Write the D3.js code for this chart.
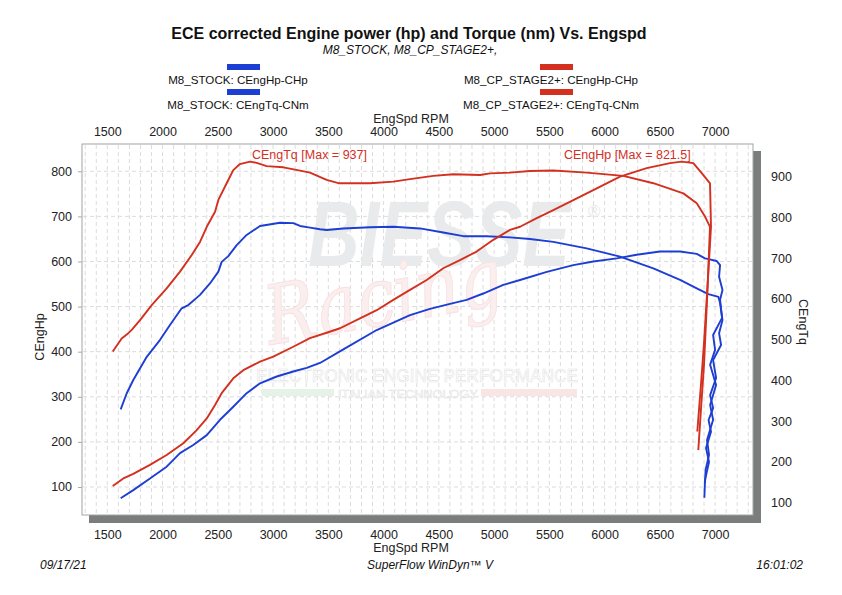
<!DOCTYPE html>
<html>
<head>
<meta charset="utf-8">
<script src="https://cdn.jsdelivr.net/npm/d3@7"></script>
<style>
  body { margin: 0; background: #fff; }
  svg { display: block; font-family: "Liberation Sans", Arial, sans-serif; }
</style>
</head>
<body>
<svg id="chart" width="842" height="595"></svg>
<script>
// tick labels
const rpmTicks = [1500, 2000, 2500, 3000, 3500, 4000, 4500, 5000, 5500, 6000, 6500, 7000];
const hpTicks = [100, 200, 300, 400, 500, 600, 700, 800];
const tqTicks = [100, 200, 300, 400, 500, 600, 700, 800, 900];

// M8_STOCK
const stockHpRpm = [1621, 1735, 1886, 2037, 2158, 2278, 2400, 2520, 2640, 2761, 2882, 3033, 3183, 3304, 3425, 3636, 3938, 4239, 4420, 4601, 4752, 4902, 5083, 5235, 5477, 5717, 5898, 6110, 6291, 6501, 6683, 6834, 6909, 7015, 7045, 7036, 7067, 7045, 7063, 6982, 7000, 6955, 7009, 6955, 6982, 6927, 6945, 6914, 6909];
const stockHp = [75, 93, 119, 145, 175, 193, 215, 249, 278, 308, 330, 345, 356, 364, 375, 405, 448, 481, 495, 506, 515, 529, 548, 559, 577, 592, 600, 607, 615, 622, 622, 617, 607, 601, 592, 566, 537, 515, 475, 437, 404, 371, 326, 282, 249, 204, 171, 138, 109];
const stockTqRpm = [1621, 1675, 1735, 1857, 1976, 2067, 2173, 2233, 2339, 2429, 2505, 2535, 2595, 2671, 2761, 2882, 3063, 3183, 3244, 3334, 3425, 3485, 3636, 3877, 4088, 4330, 4540, 4721, 4933, 5144, 5325, 5536, 5838, 6140, 6441, 6683, 6834, 6939, 7030, 7045, 7067, 7036, 7054, 6982, 7009, 6955, 6982, 6941, 6963, 6918, 6945, 6909, 6903];
const stockTq = [329, 368, 401, 458, 499, 536, 577, 585, 610, 638, 667, 691, 705, 732, 757, 779, 787, 786, 779, 775, 771, 769, 773, 776, 777, 773, 763, 754, 754, 751, 747, 740, 724, 704, 675, 647, 626, 612, 605, 590, 548, 516, 487, 450, 406, 364, 332, 303, 274, 234, 200, 156, 112];

// M8_CP_STAGE2+
const stageHpRpm = [1549, 1645, 1735, 1886, 2037, 2188, 2309, 2400, 2475, 2535, 2640, 2731, 2882, 3002, 3183, 3334, 3485, 3606, 3787, 3938, 4088, 4239, 4390, 4540, 4691, 4842, 4993, 5144, 5235, 5386, 5536, 5717, 5929, 6140, 6381, 6592, 6698, 6803, 6879, 6954, 6963, 6935, 6900, 6870, 6839];
const stageHp = [102, 119, 129, 149, 171, 197, 226, 252, 282, 308, 341, 359, 378, 389, 411, 430, 442, 452, 474, 492, 515, 537, 559, 585, 603, 622, 648, 670, 677, 696, 714, 736, 762, 788, 807, 818, 821.5, 818, 796, 773, 677, 560, 420, 320, 223];
const stageTqRpm = [1549, 1630, 1690, 1721, 1796, 1902, 2037, 2158, 2264, 2339, 2400, 2475, 2505, 2580, 2640, 2700, 2791, 2852, 2942, 3093, 3244, 3334, 3485, 3591, 3877, 4088, 4239, 4450, 4631, 4873, 4963, 5144, 5325, 5536, 5838, 6169, 6441, 6713, 6834, 6909, 6954, 6930, 6900, 6870, 6848];
const stageTq = [471, 503, 516, 524, 548, 585, 626, 667, 708, 740, 777, 814, 843, 884, 916, 931, 937, 934, 926, 923, 915, 910, 892, 884, 884, 888, 894, 902, 906, 904, 908, 910, 914, 915, 910, 902, 884, 859, 835, 802, 777, 615, 440, 320, 229];

const BLUE = '#1d3ed2';
const RED = '#d3301f';

const svg = d3.select('#chart');
const plotL = 82, plotT = 144, plotR = 753, plotB = 515;

const x = d3.scaleLinear().domain([1271, 7343]).range([plotL, plotR]);
const yHp = d3.scaleLinear().domain([37.9, 860.5]).range([plotB, plotT]);
const yTq = d3.scaleLinear().domain([69.8, 980.2]).range([plotB, plotT]);

// frame + shadow
svg.append('rect')
    .attr('x', plotL + 7).attr('y', plotT + 7)
    .attr('width', plotR - plotL + 1).attr('height', plotB - plotT + 1)
    .attr('fill', '#7b7d7d');
svg.append('rect')
    .attr('x', plotL).attr('y', plotT)
    .attr('width', plotR - plotL).attr('height', plotB - plotT)
    .attr('fill', '#fff')
    .attr('stroke', '#a3a3a3')
    .attr('stroke-width', 1);

// grid
const grid = svg.append('g').attr('stroke', '#dcdcdc').attr('stroke-dasharray', '4,3');
grid.selectAll('line.v')
    .data(d3.range(1300, 7400, 100))
    .join('line')
    .attr('class', 'v')
    .attr('x1', d => x(d)).attr('x2', d => x(d))
    .attr('y1', plotT + 1).attr('y2', plotB - 1);
grid.selectAll('line.h')
    .data(hpTicks)
    .join('line')
    .attr('class', 'h')
    .attr('x1', plotL + 1).attr('x2', plotR - 1)
    .attr('y1', d => yHp(d)).attr('y2', d => yHp(d));

// watermark (squeezed with a transform so its box stays where it is drawn)
const wm = svg.append('g').attr('pointer-events', 'none');
const biesse = wm.append('text')
    .attr('font-size', 92).attr('font-weight', 'bold').attr('font-style', 'italic')
    .attr('fill', '#e8eaeb')
    .text('BIESSE');
const bw = biesse.node().getComputedTextLength();
biesse.attr('transform', `translate(308,266) scale(${262 / bw},1)`);
wm.append('text')
    .attr('x', 588).attr('y', 217).attr('font-size', 17)
    .attr('fill', '#e6e8e9').text('®');
const racing = wm.append('text')
    .attr('font-family', 'DejaVu Serif').attr('font-style', 'italic')
    .attr('font-size', 82)
    .attr('fill', '#fbeeee').attr('stroke', '#f8e2e2').attr('stroke-width', 1)
    .text('Racing');
const rw = racing.node().getComputedTextLength();
racing.attr('transform', `translate(270,345) rotate(-10) scale(${240 / rw},1)`);
wm.append('text')
    .attr('x', 256).attr('y', 382).attr('font-size', 19)
    .attr('textLength', 322).attr('lengthAdjust', 'spacingAndGlyphs')
    .attr('fill', '#fff').attr('stroke', '#e4e4e4').attr('stroke-width', 0.6)
    .text('ELECTRONIC ENGINE PERFORMANCE');
wm.append('rect').attr('x', 262).attr('y', 389).attr('width', 72).attr('height', 7).attr('fill', '#e6f1e8');
wm.append('rect').attr('x', 481).attr('y', 389).attr('width', 96).attr('height', 7).attr('fill', '#f9e5e3');
wm.append('text')
    .attr('x', 338).attr('y', 398).attr('font-size', 11)
    .attr('textLength', 140).attr('lengthAdjust', 'spacingAndGlyphs')
    .attr('fill', '#fff').attr('stroke', '#e4e4e4').attr('stroke-width', 0.5)
    .text('ITALIAN TECHNOLOGY');

// curves
const series = [
  {rpm: stockHpRpm, val: stockHp, y: yHp, color: BLUE},
  {rpm: stockTqRpm, val: stockTq, y: yTq, color: BLUE},
  {rpm: stageHpRpm, val: stageHp, y: yHp, color: RED},
  {rpm: stageTqRpm, val: stageTq, y: yTq, color: RED}
];

svg.append('clipPath').attr('id', 'clip')
    .append('rect').attr('x', plotL).attr('y', plotT).attr('width', plotR - plotL).attr('height', plotB - plotT);

const curves = svg.append('g').attr('clip-path', 'url(#clip)');
series.forEach(s => {
  const line = d3.line().x(i => x(s.rpm[i])).y(i => s.y(s.val[i]));
  curves.append('path')
      .attr('d', line(d3.range(s.rpm.length)))
      .attr('fill', 'none')
      .attr('stroke', s.color)
      .attr('stroke-width', 1.9)
      .attr('stroke-linejoin', 'round');
});

// max annotations
const tqMaxI = d3.maxIndex(stageTq);
const hpMaxI = d3.maxIndex(stageHp);
svg.append('text')
    .attr('x', x(stageTqRpm[tqMaxI]) + 2).attr('y', 159)
    .attr('font-size', 12.5).attr('fill', RED)
    .text(`CEngTq [Max = ${stageTq[tqMaxI]}]`);
svg.append('text')
    .attr('x', x(stageHpRpm[hpMaxI]) + 9).attr('y', 159)
    .attr('text-anchor', 'end')
    .attr('font-size', 12.5).attr('fill', RED)
    .text(`CEngHp [Max = ${stageHp[hpMaxI]}]`);

// axes
function styleAxis(g) {
  g.select('.domain').remove();
  g.selectAll('text').attr('font-size', 12.5).attr('fill', '#222').attr('font-family', '"Liberation Sans", Arial, sans-serif');
  g.selectAll('line').attr('stroke', '#aaa');
}
const fmt = d3.format('d');
svg.append('g').attr('transform', 'translate(0,136)')
    .call(d3.axisTop(x).tickValues(rpmTicks).tickFormat(fmt).tickSize(0).tickPadding(0))
    .call(styleAxis);
svg.append('g').attr('transform', 'translate(0,530)')
    .call(d3.axisBottom(x).tickValues(rpmTicks).tickFormat(fmt).tickSize(0).tickPadding(0))
    .call(styleAxis);
svg.append('g').attr('transform', `translate(${plotL},0)`)
    .call(d3.axisLeft(yHp).tickValues(hpTicks).tickFormat(fmt).tickSize(4).tickPadding(6))
    .call(styleAxis);
svg.append('g').attr('transform', `translate(${plotR + 8},0)`)
    .call(d3.axisRight(yTq).tickValues(tqTicks).tickFormat(fmt).tickSize(0).tickPadding(10))
    .call(styleAxis);

// axis titles
const label = (tx, ty, txt, rot) => svg.append('text')
    .attr('transform', `translate(${tx},${ty}) rotate(${rot || 0})`)
    .attr('text-anchor', 'middle')
    .attr('font-size', 12.5).attr('fill', '#222')
    .text(txt);
label(411, 123, 'EngSpd RPM');
label(411, 552, 'EngSpd RPM');
label(44, 337, 'CEngHp', -90);
label(799, 322, 'CEngTq', 90);

// title
svg.append('text')
    .attr('x', 409).attr('y', 39)
    .attr('text-anchor', 'middle')
    .attr('font-size', 16).attr('font-weight', 'bold').attr('fill', '#111')
    .text('ECE corrected Engine power (hp) and Torque (nm) Vs. Engspd');
svg.append('text')
    .attr('x', 410).attr('y', 54)
    .attr('text-anchor', 'middle')
    .attr('font-size', 12).attr('font-style', 'italic').attr('fill', '#111')
    .text('M8_STOCK, M8_CP_STAGE2+,');

// legend
const legend = [
  {text: 'M8_STOCK: CEngHp-CHp', color: BLUE, cx: 238, row: 0},
  {text: 'M8_STOCK: CEngTq-CNm', color: BLUE, cx: 238, row: 1},
  {text: 'M8_CP_STAGE2+: CEngHp-CHp', color: RED, cx: 551, row: 0},
  {text: 'M8_CP_STAGE2+: CEngTq-CNm', color: RED, cx: 551, row: 1}
];
const lg = svg.selectAll('g.legend').data(legend).join('g')
    .attr('class', 'legend')
    .attr('transform', d => `translate(${d.cx},${64 + d.row * 25})`);
lg.append('rect')
    .attr('x', -11).attr('y', 0).attr('width', 33).attr('height', 6)
    .attr('fill', d => d.color);
lg.append('text')
    .attr('y', 20).attr('text-anchor', 'middle')
    .attr('font-size', 11.6).attr('fill', '#111')
    .text(d => d.text);

// footer
const foot = [
  {t: '09/17/21', x: 40, a: 'start'},
  {t: 'SuperFlow WinDyn\u2122 V', x: 430, a: 'middle'},
  {t: '16:01:02', x: 803, a: 'end'}
];
svg.selectAll('text.foot').data(foot).join('text')
    .attr('class', 'foot')
    .attr('x', d => d.x).attr('y', 569)
    .attr('text-anchor', d => d.a)
    .attr('font-size', 12).attr('font-style', 'italic').attr('fill', '#111')
    .text(d => d.t);
</script>
</body>
</html>
